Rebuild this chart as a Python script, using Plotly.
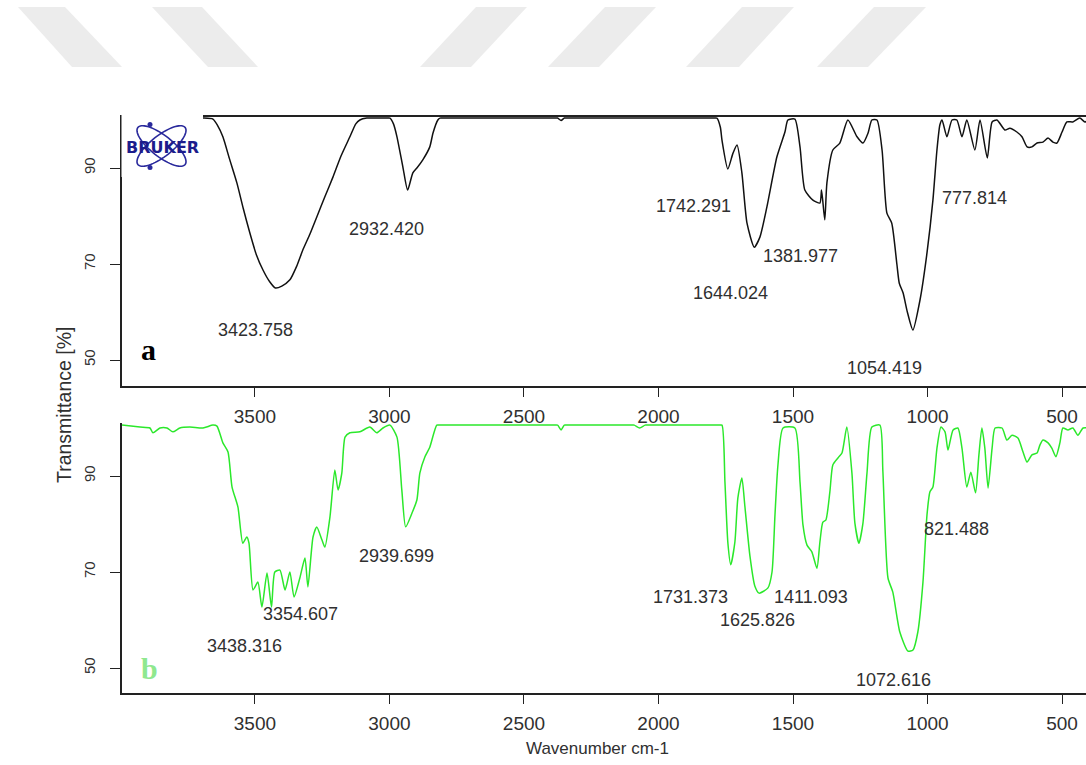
import numpy as np
import plotly.graph_objects as go

W, H = 1086, 765

# ---------------- spectrum (a) ----------------
wn_a = [3994, 3980, 3706, 3693, 3656, 3640, 3619, 3595, 3567, 3543, 3519, 3495, 3470,
        3445, 3423.758, 3400, 3370, 3345, 3322, 3295, 3270, 3240, 3210, 3180, 3147,
        3125, 3110, 3084, 3070, 3010, 2998, 2985, 2972, 2950, 2932.420, 2913, 2898,
        2876, 2850, 2838, 2820, 2812, 2800, 2390, 2375, 2362, 2350, 2340, 1795, 1783,
        1770, 1764, 1742.291, 1723, 1708, 1690, 1671, 1644.024, 1623, 1597, 1560,
        1530, 1519, 1493, 1474, 1456, 1426, 1400, 1394, 1381.977, 1374, 1352, 1326,
        1296, 1262, 1240, 1221, 1207, 1188, 1169, 1151, 1133, 1114, 1105, 1091, 1075,
        1054.419, 1028, 1002, 980, 965, 954, 946, 928, 909, 891, 872, 854, 824, 805,
        777.814, 760, 742, 712, 694, 668, 649, 630, 612, 593, 571, 552, 534, 519, 500,
        482, 460, 434, 415, 400]
t_a = [100.4, 100.4, 100.4, 100.4, 100.2, 99.0, 96.5, 92.0, 86.9, 81.5, 76.5, 72.0, 68.75,
       66.3, 65.0, 65.4, 66.7, 69.5, 72.9, 76.3, 79.8, 84.0, 88.1, 92.5, 96.5,
       99.2, 100.0, 100.4, 100.4, 100.4, 100.4, 99.2, 96.5, 90.2, 85.4, 89.0, 90.0,
       91.7, 94.4, 97.3, 100.0, 100.4, 100.4, 100.4, 100.4, 99.9, 100.4, 100.4, 100.4, 100.4,
       98.5, 95.8, 89.8, 93.1, 94.8, 89.0, 78.5, 73.5, 75.6, 81.9, 92.3,
       97.5, 100.0, 100.2, 94.4, 85.4, 83.3, 82.7, 85.4, 79.2, 86.9, 93.75, 95.2,
       100.0, 96.5, 95.2, 97.3, 100.0, 100.0, 93.75, 80.6, 78.5, 70.0, 66.0, 64.0, 60.0,
       56.25, 62.5, 72.3, 83.3, 93.75, 99.0, 100.0, 96.5, 100.0, 100.0, 96.5, 100.0, 93.75, 100.0,
       92.1, 99.6, 100.0, 97.9, 98.3, 97.5, 96.5, 94.4, 94.4, 95.2, 95.4, 96.25, 95.4, 95.2, 97.5,
       99.6, 99.6, 100.4, 99.6, 100.0]

# ---------------- spectrum (b) ----------------
wn_b = [3994, 3927, 3890, 3879, 3853, 3827, 3805, 3779, 3742, 3693, 3656, 3641, 3619,
        3600, 3585, 3563, 3545, 3530, 3522, 3507, 3489, 3474, 3455, 3438.316, 3426,
        3407, 3388, 3370, 3354.607, 3333, 3314, 3303, 3284, 3270, 3251, 3240, 3221,
        3203, 3191, 3177, 3165, 3147, 3110, 3073, 3047, 3024, 2998, 2972, 2954,
        2939.699, 2916, 2898, 2887, 2868, 2850, 2824, 2812, 2390, 2375, 2362, 2350,
        2340, 2100, 2090, 2070, 2050, 2040, 1775, 1764, 1753, 1742, 1731.373, 1716,
        1705, 1690, 1679, 1660, 1642, 1625.826, 1593, 1578, 1567, 1556, 1537, 1493,
        1474, 1463, 1448, 1430, 1411.093, 1400, 1389, 1378, 1363, 1352, 1333, 1318,
        1300, 1281, 1270, 1255, 1240, 1225, 1207, 1177, 1166, 1147, 1129, 1103,
        1072.616, 1054, 1036, 1017, 1002, 991, 980, 965, 950, 935, 924, 905, 887, 872,
        854, 839, 821.488, 809, 798, 787, 775, 760, 749, 723, 705, 686, 664, 645, 630,
        612, 593, 582, 571, 552, 538, 523, 508, 497, 478, 460, 441, 422, 400]
t_b = [100.6, 100.2, 100.0, 99.0, 100.0, 100.0, 99.2, 100.0, 100.2, 100.0, 100.6, 100.4,
       96.9, 95.0, 87.7, 83.5, 76.0, 77.3, 76.0, 66.25, 67.9, 62.7, 69.8, 62.7, 70.0,
       70.4, 66.25, 70.0, 64.8, 68.75, 72.9, 66.9, 77.3, 79.4, 76.7, 75.2, 81.5,
       91.25, 87.1, 90.6, 98.1, 99.0, 99.2, 100.2, 99.0, 100.0, 100.6, 98.1, 87.1,
       79.4, 82.3, 85.0, 90.6, 94.0, 96.0, 100.6, 100.6, 100.6, 100.6, 99.6, 100.6,
       100.6, 100.6, 100.6, 100.0, 100.6, 100.6, 100.6, 100.6, 88.75, 76.0, 71.5, 76.25,
       85.4, 89.6, 83.75, 73.3, 67.1, 65.6, 66.7, 70.0, 81.9, 92.3, 100.0, 100.0,
       88.75, 79.8, 75.6, 74.2, 70.8, 76.25, 80.4, 80.8, 86.7, 92.3, 93.75, 94.8,
       100.2, 90.6, 80.2, 76.0, 80.2, 90.6, 100.2, 100.6, 91.0, 68.75, 65.8, 57.5,
       53.5, 53.75, 57.5, 67.9, 81.9, 86.7, 87.7, 95.8, 100.2, 99.2, 95.4, 99.6, 100.0, 95.8,
       87.7, 90.8, 86.5, 94.4, 100.0, 95.8, 87.5, 95.8, 100.0, 100.0, 97.5, 98.5, 97.9, 95.0, 92.9,
       94.4, 94.8, 96.5, 97.5, 96.9, 95.8, 94.0, 96.9, 100.0, 99.6, 100.0, 98.5, 100.0, 100.0]

# labelled band positions (cm-1)
peaks_a = [3423.758, 2932.420, 1742.291, 1644.024, 1381.977, 1054.419, 777.814]
peaks_b = [3438.316, 3354.607, 2939.699, 1731.373, 1625.826, 1411.093, 1072.616, 821.488]

x_ticks = [3500, 3000, 2500, 2000, 1500, 1000, 500]
y_ticks = [50, 70, 90]

# label offsets from each band minimum, in pixels (dx right, dy down)
offs_a = [(-20, 42), (-21, 39), (-34, 37), (-24, 46), (-24, 36), (-28, 38), (-13, 40)]
offs_b = [(-27, 39), (6, 17), (-9, 29), (-40, 32), (-2, 27), (-6, 29), (-14, 29), (-19, 36)]


def px(x):
    return x / W


def py(y):
    return 1 - y / H


FONT = "Liberation Sans, Arial, sans-serif"
SERIF = "Liberation Serif, Times New Roman, serif"
TXT = "#303030"

fig = go.Figure()
fig.add_trace(go.Scatter(x=wn_a, y=t_a, mode="lines", xaxis="x", yaxis="y",
                         line=dict(color="#111111", width=1.5, shape="spline",
                                   smoothing=0.6),
                         showlegend=False))
fig.add_trace(go.Scatter(x=wn_b, y=t_b, mode="lines", xaxis="x2", yaxis="y2",
                         line=dict(color="#2be82b", width=1.5, shape="spline",
                                   smoothing=0.6),
                         showlegend=False))

xrange = [3994, 411]
xcommon = dict(range=xrange, tickvals=x_ticks, ticktext=[str(v) for v in x_ticks],
               ticks="outside", ticklen=9, tickwidth=1.2, tickcolor="#222",
               showline=True, linecolor="#222", linewidth=1.5, showgrid=False,
               zeroline=False, automargin=False, ticklabelstandoff=3,
               tickfont=dict(family=FONT, size=19, color=TXT),
               domain=[px(122), 1])
ycommon = dict(tickvals=y_ticks, ticktext=[str(v) for v in y_ticks],
               ticks="outside", ticklen=10, tickwidth=1.2, tickcolor="#222",
               showline=True, linecolor="#222", linewidth=1.5, showgrid=False,
               zeroline=False, automargin=False, tickangle=-90, ticklabelstandoff=9,
               tickfont=dict(family=FONT, size=15, color=TXT))

fig.update_layout(
    width=W, height=H, margin=dict(l=0, r=0, t=0, b=0),
    paper_bgcolor="white", plot_bgcolor="white", template="none",
    xaxis=dict(**xcommon, anchor="y", mirror=True),
    yaxis=dict(**ycommon, anchor="x", domain=[py(386), py(117)],
               range=[90 - (386 - 168) / 4.8, 90 + (168 - 117) / 4.8]),
    xaxis2=dict(**xcommon, anchor="y2"),
    yaxis2=dict(**ycommon, anchor="x2", domain=[py(693), py(423)],
                range=[90 - (693 - 476) / 4.8, 90 + (476 - 423) / 4.8]),
)

shapes = []
# faint diagonal watermark bands along the top edge
bands = [((18, 65), (72, 122)), ((152, 202), (208, 258)),
         ((476, 527), (420, 471)), ((605, 656), (548, 599)),
         ((742, 794), (686, 739)), ((874, 926), (817, 868))]
for (t0, t1), (b0, b1) in bands:
    path = (f"M {px(t0)},{py(7)} L {px(t1)},{py(7)} "
            f"L {px(b1)},{py(67)} L {px(b0)},{py(67)} Z")
    shapes.append(dict(type="path", path=path, xref="paper", yref="paper",
                       fillcolor="#ececec", line=dict(width=0), layer="below"))

# logo plate in the upper-left corner of panel (a)
shapes.append(dict(type="rect", xref="paper", yref="paper",
                   x0=px(121.5), x1=px(203), y0=py(177), y1=py(104),
                   fillcolor="white", line=dict(width=0), layer="above"))
cx, cy = 161.5, 146.0
tt = np.linspace(0, 2 * np.pi, 73)
for ang in (38, -38):
    a = np.deg2rad(ang)
    ex = 30 * np.cos(tt)
    ey = 10.5 * np.sin(tt)
    xs = cx + ex * np.cos(a) - ey * np.sin(a)
    ys = cy + ex * np.sin(a) + ey * np.cos(a)
    path = "M " + " L ".join(f"{px(u):.5f},{py(v):.5f}" for u, v in zip(xs, ys)) + " Z"
    shapes.append(dict(type="path", path=path, xref="paper", yref="paper",
                       line=dict(color="#2a2a9c", width=1.6), layer="above"))
for dx, dy in ((150, 124.5), (150, 167.5)):
    shapes.append(dict(type="circle", xref="paper", yref="paper",
                       x0=px(dx - 2.5), x1=px(dx + 2.5), y0=py(dy + 2.5), y1=py(dy - 2.5),
                       fillcolor="#2a2a9c", line=dict(width=0), layer="above"))
fig.update_layout(shapes=shapes)

ann = []


def paper_text(text, x, y, font, angle=0):
    return dict(text=text, x=px(x), y=py(y), xref="paper", yref="paper",
                xanchor="center", yanchor="middle", showarrow=False,
                textangle=angle, font=font)


ann.append(paper_text("<b>BRUKER</b>", 162, 147,
                      dict(family="DejaVu Sans, sans-serif", size=16, color="#1c1c8c")))


def peak_labels(wns, ts, peaks, offs, xr, yr):
    out = []
    for p, (dx, dy) in zip(peaks, offs):
        i = int(np.argmin(np.abs(np.asarray(wns) - p)))
        out.append(dict(text=f"{p:.3f}", x=p, y=ts[i], xref=xr, yref=yr,
                        xanchor="center", yanchor="middle",
                        xshift=dx, yshift=-dy, showarrow=False,
                        font=dict(family=FONT, size=18, color=TXT)))
    return out


ann += peak_labels(wn_a, t_a, peaks_a, offs_a, "x", "y")
ann += peak_labels(wn_b, t_b, peaks_b, offs_b, "x2", "y2")

ann.append(paper_text("<b>a</b>", 148, 350, dict(family=SERIF, size=30, color="black")))
ann.append(paper_text("<b>b</b>", 149, 668, dict(family=SERIF, size=30, color="#8fe88f")))
ann.append(paper_text("Transmittance [%]", 64, 405,
                      dict(family=FONT, size=19.5, color=TXT), angle=-90))
ann.append(paper_text("Wavenumber cm-1", 597, 748, dict(family=FONT, size=17, color=TXT)))
fig.update_layout(annotations=ann)

fig.write_html("out.html")
